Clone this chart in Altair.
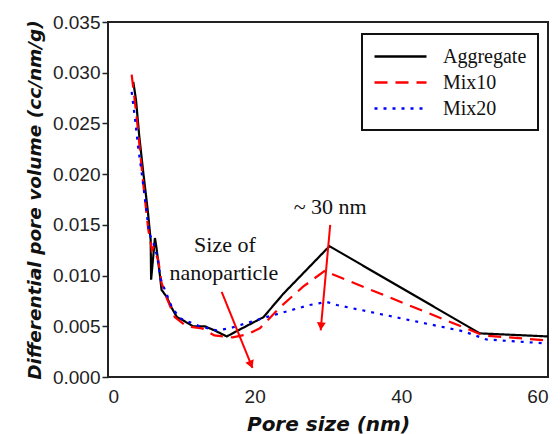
import altair as alt
import pandas as pd

# ---- data ----
series_names = ["Aggregate", "Mix10", "Mix20"]

agg_x = [3.45, 3.82, 4.27, 4.82, 5.41, 5.82, 5.88, 6.40, 6.60, 7.10, 7.30, 8.00, 8.70, 9.40, 10.2, 11.6, 13.2, 14.5, 16.2, 17.5, 21.2, 23.9, 30.2, 50.7, 60.0]
agg_y = [0.0291, 0.0273, 0.0237, 0.0201, 0.0165, 0.0135, 0.0096, 0.0137, 0.0128, 0.0099, 0.0086, 0.0079, 0.0068, 0.0059, 0.0056, 0.0050, 0.0050, 0.0046, 0.0040, 0.0045, 0.0059, 0.0082, 0.0129, 0.0043, 0.0040]

mix10_x = [3.23, 3.90, 4.80, 5.50, 6.00, 6.20, 6.86, 7.30, 8.00, 9.10, 10.7, 12.8, 14.5, 17.0, 19.0, 20.7, 23.5, 26.6, 29.6, 30.7, 51.2, 60.0]
mix10_y = [0.0298, 0.0257, 0.0191, 0.0145, 0.0125, 0.0128, 0.0115, 0.0093, 0.0078, 0.0059, 0.0050, 0.0048, 0.0041, 0.0039, 0.0042, 0.0048, 0.0069, 0.0089, 0.0105, 0.0101, 0.0041, 0.0036]

mix20_x = [3.23, 3.68, 4.10, 4.60, 5.05, 5.60, 6.20, 6.70, 7.20, 8.70, 9.80, 12.5, 14.8, 16.6, 21.1, 27.5, 29.8, 31.2, 48.5, 51.6, 60.0]
mix20_y = [0.0281, 0.0255, 0.0227, 0.0201, 0.0175, 0.0142, 0.0132, 0.0119, 0.0096, 0.0069, 0.0058, 0.0050, 0.0046, 0.0048, 0.0058, 0.0071, 0.0074, 0.0071, 0.0045, 0.0037, 0.0033]

ann_text = ["Size of", "nanoparticle", "~ 30 nm"]
ann_x = [15.95, 15.8, 30.3]
ann_y = [0.0130, 0.01025, 0.01676]

arrow_id = ["a1", "a1", "a2", "a2"]
arrow_x = [15.5, 19.7, 30.3, 29.0]
arrow_y = [0.0084, 0.0009, 0.0150, 0.0046]

head_x = [19.5, 29.05]
head_y = [0.00122, 0.0050]
head_angle = [338, 5]

x_ticks = [0, 20, 40, 60]
y_ticks = [0.0, 0.005, 0.010, 0.015, 0.020, 0.025, 0.030, 0.035]

# ---- tables ----
rows = []
for name, xs, ys in [("Aggregate", agg_x, agg_y), ("Mix10", mix10_x, mix10_y), ("Mix20", mix20_x, mix20_y)]:
    for i, (xv, yv) in enumerate(zip(xs, ys)):
        rows.append({"series": name, "idx": i, "x": xv, "y": yv})
lines_df = pd.DataFrame(rows)
ann_df = pd.DataFrame({"text": ann_text, "x": ann_x, "y": ann_y})
arrow_df = pd.DataFrame({"id": arrow_id, "x": arrow_x, "y": arrow_y, "o": list(range(4))})
head_df = pd.DataFrame({"x": head_x, "y": head_y, "angle": head_angle})

xscale = alt.Scale(domain=[0, 60], nice=False, zero=False)
yscale = alt.Scale(domain=[0, 0.035], nice=False)

xaxis = alt.Axis(values=x_ticks, title="Pore size (nm)", format="d")
yaxis = alt.Axis(values=y_ticks, title="Differential pore volume (cc/nm/g)", format=".3f")

lines = alt.Chart(lines_df).mark_line(strokeWidth=2.2).encode(
    x=alt.X("x:Q", scale=xscale, axis=xaxis),
    y=alt.Y("y:Q", scale=yscale, axis=yaxis),
    color=alt.Color("series:N", title=None,
                    scale=alt.Scale(domain=series_names, range=["#000000", "#ff0000", "#0000ff"]),
                    legend=alt.Legend(orient="none", legendX=254, legendY=12)),
    strokeDash=alt.StrokeDash("series:N", title=None,
                              scale=alt.Scale(domain=series_names, range=[[1, 0], [13, 8], [3, 6]])),
    order="idx:Q",
)

arrows = alt.Chart(arrow_df).mark_line(color="#ff0000", strokeWidth=2).encode(
    x=alt.X("x:Q", scale=xscale),
    y=alt.Y("y:Q", scale=yscale),
    detail="id:N",
    order="o:Q",
)

heads = alt.Chart(head_df).mark_point(shape="triangle-down", filled=True, color="#ff0000",
                                      size=80, opacity=1).encode(
    x=alt.X("x:Q", scale=xscale),
    y=alt.Y("y:Q", scale=yscale),
    angle=alt.Angle("angle:Q", scale=None),
)

texts = alt.Chart(ann_df).mark_text(font="Liberation Serif", fontSize=22, color="#111111",
                                    baseline="middle", align="center").encode(
    x=alt.X("x:Q", scale=xscale),
    y=alt.Y("y:Q", scale=yscale),
    text="text:N",
)

chart = alt.layer(lines, arrows, heads, texts).properties(
    width=440, height=355,
    padding={"left": 108, "top": 22, "right": 12, "bottom": 57},
    autosize=alt.AutoSizeParams(type="none"),
).configure_view(
    stroke="#222222", strokeWidth=2
).configure_axis(
    domain=False,
    labelFont="Liberation Sans", labelFontSize=19, labelColor="#222222",
    titleFont="DejaVu Sans", titleFontWeight="bold", titleFontStyle="italic",
    titleColor="#111111", tickColor="#222222", grid=False,
).configure_axisY(
    tickSize=6, tickWidth=1.5, labelPadding=2, titleFontSize=18.5, titlePadding=8,
).configure_axisX(
    tickSize=0, labelPadding=10, titleFontSize=20, titlePadding=8,
).configure_legend(
    labelFont="Liberation Serif", labelFontSize=20, labelColor="#111111",
    symbolType="M-1,0H4.2", symbolSize=400, symbolStrokeWidth=2.5,
    labelOffset=47, padding=11, rowPadding=4,
    strokeColor="#111111", strokeWidth=2, fillColor="#ffffff", labelLimit=0,
)

chart.save("out.html", embed_options={"renderer": "svg", "actions": False})
